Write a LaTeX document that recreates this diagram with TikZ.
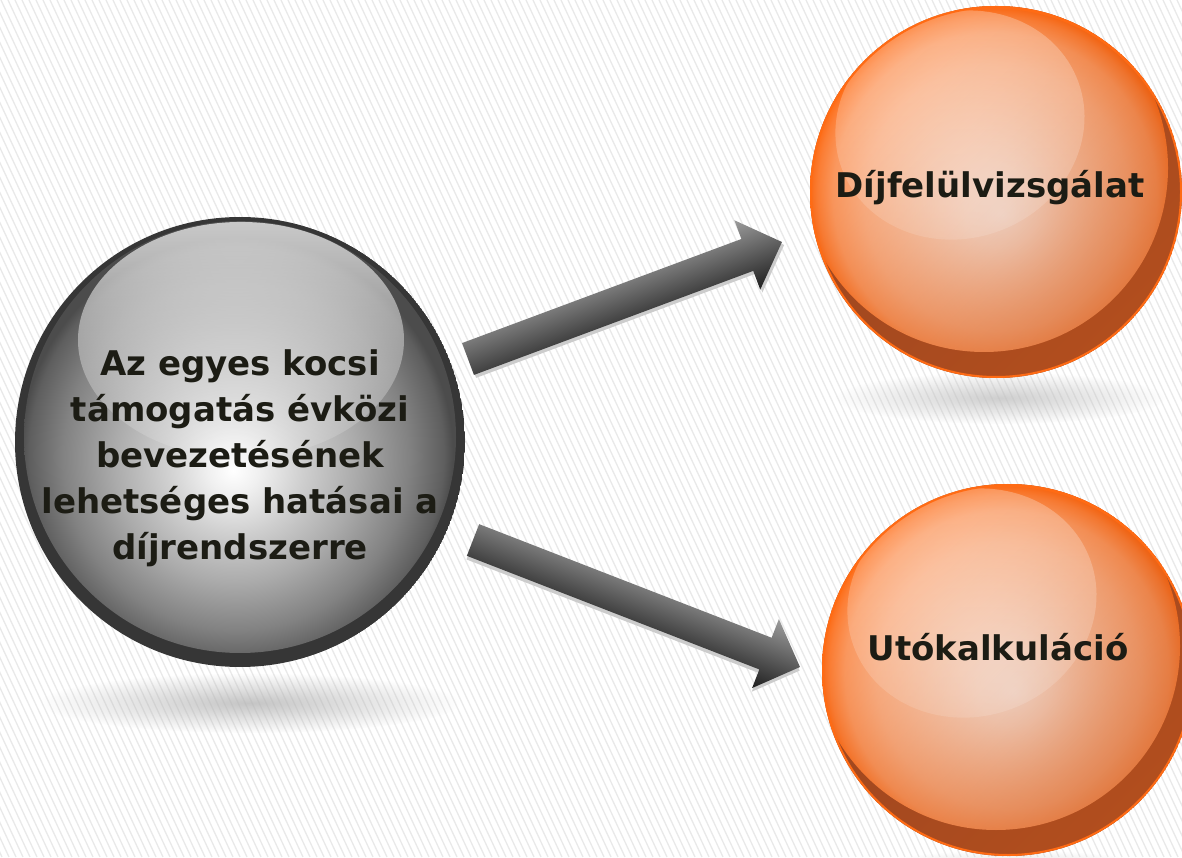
\documentclass[tikz,border=0pt]{standalone}
\usepackage{fontspec}
\setmainfont{DejaVu Sans}
\usepackage{tikz}
\usetikzlibrary{calc, fadings}
\definecolor{rimorange}{rgb}{1.0, 0.42, 0.08}
\definecolor{rimbrown}{rgb}{0.60, 0.27, 0.13}
\definecolor{rimgrey}{rgb}{0.21, 0.21, 0.21}
\definecolor{stripe}{rgb}{0.915, 0.915, 0.915}
\definecolor{inkblack}{rgb}{0.11, 0.11, 0.08}

\pgfdeclareradialshading{orangecore}{\pgfpoint{2.6bp}{-6.4bp}}{color(0bp)=(white); color(5bp)=(white!90!rimorange); color(12.5bp)=(white!68!rimorange); color(18bp)=(white!52!rimorange); color(22bp)=(white!34!rimorange); color(24bp)=(white!14!rimorange); color(25bp)=(rimorange); color(50bp)=(rimorange)}
\pgfdeclareradialshading{greycore}{\pgfpoint{-0.8bp}{-3.9bp}}{color(0bp)=(white); color(3bp)=(white!94!black); color(8bp)=(white!81!black); color(14bp)=(white!67!black); color(20bp)=(white!51!black); color(24bp)=(white!37!black); color(25bp)=(white!30!black); color(50bp)=(white!30!black)}
\tikzfading[name=glossfade, top color=transparent!30, bottom color=transparent!90]
\tikzfading[name=orangegloss, top color=transparent!72, bottom color=transparent!88]
\tikzfading[name=softshadow, inner color=transparent!25, outer color=transparent!100]
\tikzfading[name=darkside, top color=transparent!100, middle color=transparent!100, bottom color=transparent!45]

\newcommand{\greyball}[1]{%
  \fill[black!30, path fading=softshadow] ($(#1)+(10,-261)$) ellipse [x radius=210, y radius=30];
  \begin{scope}
    \clip (#1) circle (225);
    \fill[rimgrey] (#1) circle (225);
    \shade[shading=greycore] ($(#1)+(0,5)$) circle (216);
    \fill[white, path fading=glossfade] ($(#1)+(1,102)$) ellipse [x radius=163, y radius=118];
  \end{scope}}

\newcommand{\orangeball}[1]{%
  \fill[black!25, path fading=softshadow] ($(#1)+(4,-206)$) ellipse [x radius=165, y radius=26];
  \begin{scope}
    \clip (#1) circle (186);
    \fill[rimbrown] (#1) circle (186);
    \shade[shading=orangecore] ($(#1)+(-12,24)$) circle (184);
    \fill[rimorange!45!rimbrown, path fading=darkside, fading angle=45] (#1) circle (186);
    \begin{scope}[shift={($(#1)+(-36,67)$)}, rotate=20]
      \fill[white, path fading=orangegloss] (0,0) ellipse [x radius=126, y radius=113];
    \end{scope}
  \end{scope}
  \draw[rimorange, line width=2] (#1) circle (185);}

\newcommand{\blockarrow}[2]{%
  \path let \p1=($(#2)-(#1)$) in \pgfextra{%
    \pgfmathsetmacro\arrang{atan2(\y1,\x1)}\global\let\arrang\arrang
    \pgfmathsetmacro\arrlen{veclen(\x1,\y1)}\global\let\arrlen\arrlen};
  \begin{scope}[transform canvas={shift={(#1)}, rotate=\arrang}]
    \fill[black!20, xshift=1, yshift=-3.5] (0,-17) -- ({\arrlen-37},-17) -- ({\arrlen-37},-37) -- (\arrlen,0)
      -- ({\arrlen-37},37) -- ({\arrlen-37},17) -- (0,17) -- cycle;
    \shade[top color=black!39, bottom color=black!88] (0,-17) -- ({\arrlen-37},-17) -- ({\arrlen-37},-37) -- (\arrlen,0)
      -- ({\arrlen-37},37) -- ({\arrlen-37},17) -- (0,17) -- cycle;
  \end{scope}}

\begin{document}
\begin{tikzpicture}[x=1pt, y=1pt,
    balltext/.style={font=\fontsize{34}{46}\selectfont\bfseries, text=inkblack, align=center, inner sep=0pt}]
  \useasboundingbox (0,0) rectangle (1182,857);
  \fill[white] (0,0) rectangle (1182,857);
  \begin{scope}
    \clip (0,0) rectangle (1182,857);
    \foreach \s in {-440,-433,...,1182}
      \draw[stripe, line width=1.3] (\s,857) -- ++(400,-857);
  \end{scope}

  \coordinate (hub) at (240,415);
  \coordinate (review) at (996,665);
  \coordinate (recalc) at (1008,187);
  \coordinate (up-from) at (468,498);
  \coordinate (up-to) at (782,615);
  \coordinate (down-from) at (473,317);
  \coordinate (down-to) at (800,190);

  \blockarrow{up-from}{up-to}
  \blockarrow{down-from}{down-to}

  \greyball{hub}
  \orangeball{review}
  \orangeball{recalc}

  \node[balltext] (hubtext) at ($(hub)+(0,-16)$) {Az egyes kocsi\\támogatás évközi\\bevezetésének\\lehetséges hatásai a\\díjrendszerre};
  \node[balltext, anchor=base] (reviewtext) at (990,659) {Díjfelülvizsgálat};
  \node[balltext, anchor=base] (recalctext) at (998,197) {Utókalkuláció};
\end{tikzpicture}
\end{document}
